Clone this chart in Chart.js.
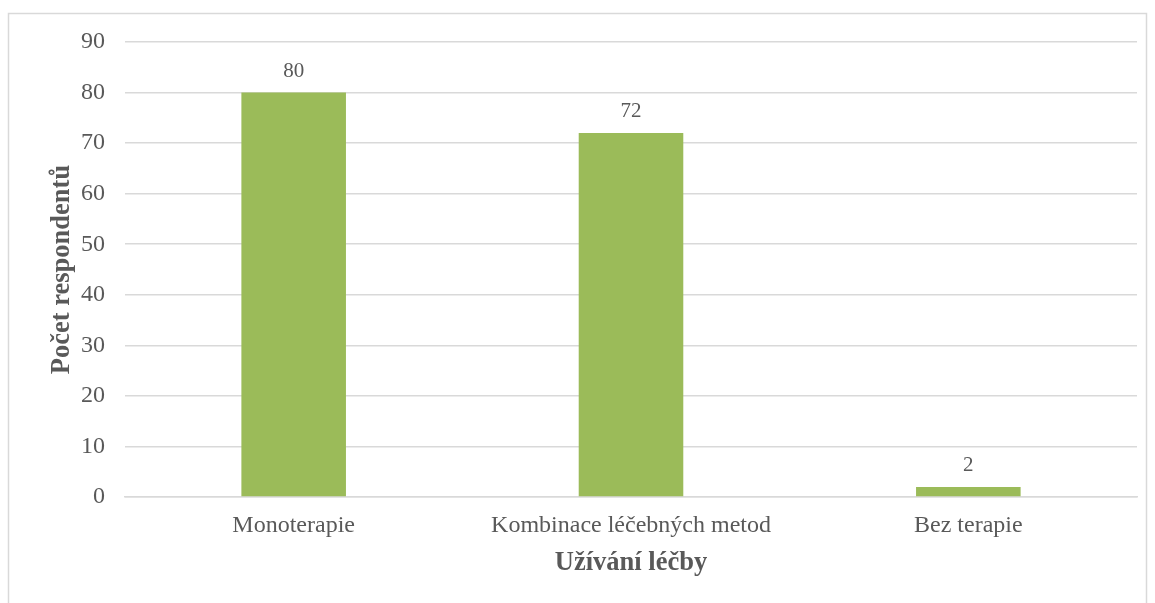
<!DOCTYPE html>
<html lang="cs">
<head>
<meta charset="utf-8">
<title>Užívání léčby</title>
<script src="https://cdn.jsdelivr.net/npm/chart.js@4.4.1/dist/chart.umd.min.js"></script>
<style>
  html, body { margin: 0; padding: 0; background: #fff; }
  #wrap { position: relative; width: 1155px; height: 603px; }
</style>
</head>
<body>
<div id="wrap"><canvas id="chart"></canvas></div>
<script>
const categories = ['Monoterapie', 'Kombinace léčebných metod', 'Bez terapie'];
const respondents = [80, 72, 2];
const yTicks = [0, 10, 20, 30, 40, 50, 60, 70, 80, 90];

const textColor = '#595959';
const gridColor = '#d9d9d9';
const barColor = '#9bbb59';
const serif = '"Liberation Serif", "Times New Roman", serif';

// light frame round the whole chart
const framePlugin = {
  id: 'frame',
  beforeDraw(chart) {
    const ctx = chart.ctx;
    ctx.save();
    ctx.fillStyle = '#fff';
    ctx.fillRect(0, 0, chart.width, chart.height);
    ctx.strokeStyle = gridColor;
    ctx.lineWidth = 1.5;
    ctx.strokeRect(8.5, 13.5, 1138, 700);
    ctx.restore();
  }
};

// value written above every bar
const valueLabels = {
  id: 'valueLabels',
  afterDatasetsDraw(chart) {
    const ctx = chart.ctx;
    const meta = chart.getDatasetMeta(0);
    ctx.save();
    ctx.font = '21px ' + serif;
    ctx.fillStyle = textColor;
    ctx.textAlign = 'center';
    ctx.textBaseline = 'alphabetic';
    meta.data.forEach((bar, i) => {
      ctx.fillText(String(respondents[i]), bar.x, bar.y - 16);
    });
    ctx.restore();
  }
};

new Chart(document.getElementById('chart'), {
  type: 'bar',
  data: {
    labels: categories,
    datasets: [{
      label: 'Počet respondentů',
      data: respondents,
      backgroundColor: barColor,
      borderWidth: 0,
      categoryPercentage: 1,
      barPercentage: 0.31
    }]
  },
  options: {
    responsive: true,
    maintainAspectRatio: false,
    animation: false,
    layout: { padding: { left: 0, right: 18, top: 42, bottom: 0 } },
    plugins: {
      legend: { display: false },
      tooltip: { enabled: false }
    },
    scales: {
      x: {
        grid: { display: false, drawTicks: false },
        border: { display: true, color: gridColor, width: 1.5 },
        ticks: { color: textColor, font: { family: serif, size: 24 }, padding: 14, maxRotation: 0 },
        title: {
          display: true,
          text: 'Užívání léčby',
          color: textColor,
          font: { family: serif, size: 26.5, weight: 'bold' },
          padding: { top: 0, bottom: 24 }
        },
        afterFit(scale) { scale.height = 106; }
      },
      y: {
        min: 0,
        max: 90,
        afterBuildTicks(scale) { scale.ticks = yTicks.map(v => ({ value: v })); },
        grid: { color: gridColor, lineWidth: 1.5, drawTicks: false },
        border: { display: false },
        ticks: { color: textColor, font: { family: serif, size: 24 }, padding: 20 },
        title: {
          display: true,
          text: 'Počet respondentů',
          color: textColor,
          font: { family: serif, size: 26.5, weight: 'bold' },
          padding: { top: 46, bottom: 0 }
        },
        afterFit(scale) { scale.width = 125; }
      }
    }
  },
  plugins: [framePlugin, valueLabels]
});
</script>
</body>
</html>
